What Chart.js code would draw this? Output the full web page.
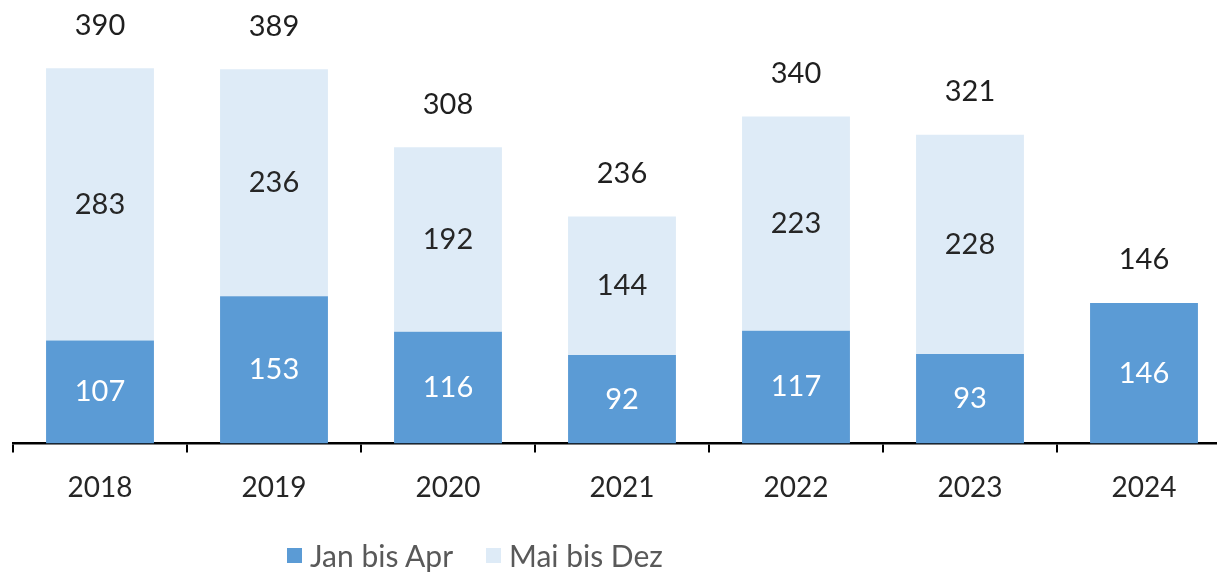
<!DOCTYPE html>
<html>
<head>
<meta charset="utf-8">
<script src="https://cdn.jsdelivr.net/npm/chart.js@4"></script>
<style>
  html, body { margin: 0; padding: 0; background: #fff; overflow: hidden; width: 1217px; height: 572px; }
  #wrap { position: absolute; left: 0; top: 0; width: 1231px; height: 572px; }
  #legend { position: absolute; top: 0; left: 0; font-family: Lato, "Open Sans", sans-serif; font-size: 30px; color: #595959; white-space: nowrap; }
  #legend span.item { position: absolute; top: 537px; display: inline-flex; align-items: center; height: 36px; }
  #legend span.sw { display: inline-block; width: 15px; height: 15px; margin-right: 8px; }
</style>
</head>
<body>
<div id="wrap"><canvas id="c"></canvas></div>
<div id="legend"></div>
<script>
const categories = ["2018", "2019", "2020", "2021", "2022", "2023", "2024"];
const janBisApr = [107, 153, 116, 92, 117, 93, 146];
const maiBisDez = [283, 236, 192, 144, 223, 228, 0];
const totals = [390, 389, 308, 236, 340, 321, 146];
const seriesNames = ["Jan bis Apr", "Mai bis Dez"];
const seriesColors = ["#5B9BD5", "#DEEBF7"];
const labelColors = ["#ffffff", "#262626"];
const legendLeft = [287, 486];

const FONT = 'Lato, "Open Sans", sans-serif';

const labelPlugin = {
  id: 'labels',
  afterDatasetsDraw(chart) {
    const ctx = chart.ctx;
    ctx.save();
    ctx.font = '29px ' + FONT;
    ctx.textAlign = 'center';
    ctx.textBaseline = 'middle';
    chart.data.datasets.forEach((ds, di) => {
      const meta = chart.getDatasetMeta(di);
      meta.data.forEach((bar, i) => {
        const v = ds.data[i];
        if (!v) return;
        ctx.fillStyle = labelColors[di];
        ctx.fillText(String(v), bar.x, (bar.y + bar.base) / 2);
      });
    });
    const ys = chart.scales.y;
    const xs = chart.scales.x;
    ctx.fillStyle = '#1f1f1f';
    totals.forEach((t, i) => {
      ctx.fillText(String(t), xs.getPixelForValue(i), ys.getPixelForValue(t) - 43);
    });
    ctx.restore();
  }
};

new Chart(document.getElementById('c'), {
  type: 'bar',
  data: {
    labels: categories,
    datasets: [
      { label: seriesNames[0], data: janBisApr, backgroundColor: seriesColors[0], categoryPercentage: 1, barPercentage: 0.62 },
      { label: seriesNames[1], data: maiBisDez, backgroundColor: seriesColors[1], categoryPercentage: 1, barPercentage: 0.62 }
    ]
  },
  options: {
    responsive: true,
    maintainAspectRatio: false,
    animation: false,
    layout: { padding: { left: 13, right: 0, top: 0, bottom: 48 } },
    plugins: { legend: { display: false }, tooltip: { enabled: false } },
    scales: {
      x: {
        stacked: true,
        offset: true,
        grid: { offset: true, drawOnChartArea: false, drawTicks: true, tickLength: 9, color: '#000', lineWidth: 2 },
        border: { display: true, color: '#000', width: 2.5 },
        ticks: { color: '#262626', font: { family: FONT, size: 28 }, padding: 19 }
      },
      y: {
        stacked: true,
        display: false,
        min: 0,
        max: 461
      }
    }
  },
  plugins: [labelPlugin]
});

const lg = document.getElementById('legend');
seriesNames.forEach((n, i) => {
  const it = document.createElement('span');
  it.className = 'item';
  it.style.left = legendLeft[i] + 'px';
  const sw = document.createElement('span');
  sw.className = 'sw';
  sw.style.background = seriesColors[i];
  it.appendChild(sw);
  it.appendChild(document.createTextNode(n));
  lg.appendChild(it);
});
</script>
</body>
</html>
